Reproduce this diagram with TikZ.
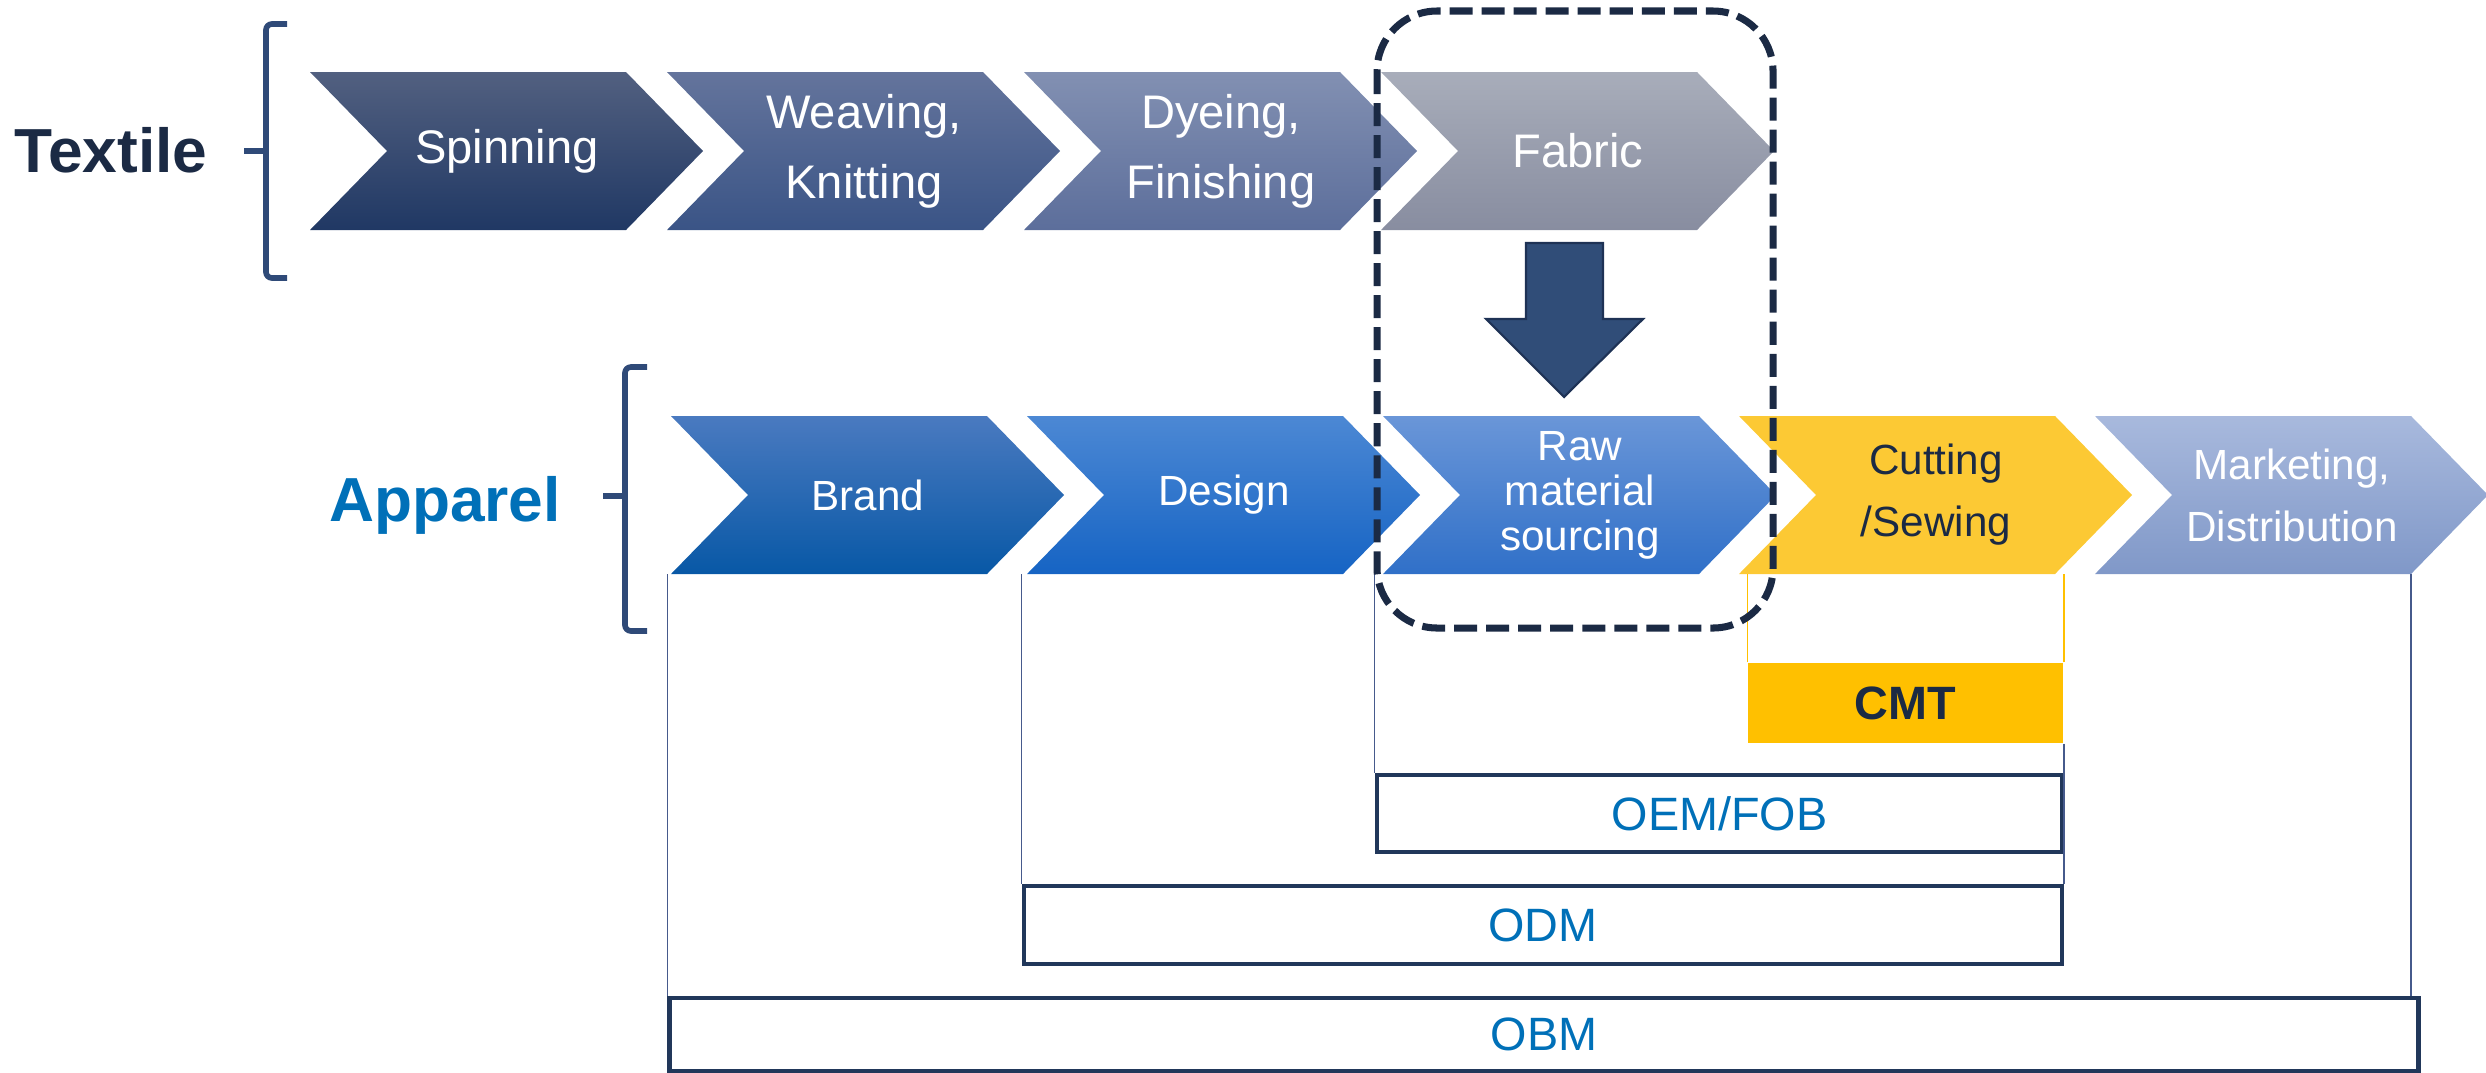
\documentclass[tikz,border=0pt]{standalone}
\usepackage{fontspec}
\setmainfont{Liberation Sans}

\definecolor{navy}{RGB}{27,42,68}
\definecolor{bracecol}{RGB}{47,74,120}
\definecolor{apblue}{RGB}{0,112,184}
\definecolor{spinT}{RGB}{82,96,128}
\definecolor{spinB}{RGB}{32,56,100}
\definecolor{weaveT}{RGB}{100,116,156}
\definecolor{weaveB}{RGB}{58,84,134}
\definecolor{dyeT}{RGB}{130,144,178}
\definecolor{dyeB}{RGB}{92,110,155}
\definecolor{fabT}{RGB}{168,173,186}
\definecolor{fabB}{RGB}{136,141,160}
\definecolor{brandT}{RGB}{74,122,192}
\definecolor{brandB}{RGB}{8,88,166}
\definecolor{designT}{RGB}{76,136,212}
\definecolor{designB}{RGB}{22,100,196}
\definecolor{rawT}{RGB}{106,150,216}
\definecolor{rawB}{RGB}{48,112,200}
\definecolor{cutY}{RGB}{252,201,52}
\definecolor{mktT}{RGB}{168,185,221}
\definecolor{mktB}{RGB}{128,152,200}
\definecolor{arrowF}{RGB}{48,77,120}
\definecolor{arrowD}{RGB}{30,50,85}
\definecolor{boxline}{RGB}{33,55,90}
\definecolor{cmtY}{RGB}{255,192,0}
\definecolor{linkcol}{RGB}{70,90,140}

% one chevron step: name, left x, top y, shading, label style, label
\newcommand{\chevstep}[6]{%
  \shade[#4] (#2,#3) -- ++(316,0) -- ++(77,79) -- ++(-77,79) coordinate (#1-se)
    -- ++(-316,0) coordinate (#1-sw) -- ++(77,-79) -- cycle;
  \node[#5] (#1) at (#2+197,#3+79) {#6};
}

\tikzset{
  textilelbl/.style={text=white, align=center, inner sep=0pt, font=\fontsize{13.4}{19.8}\selectfont},
  apparellbl/.style={text=white, align=center, inner sep=0pt, font=\fontsize{12}{17.6}\selectfont},
  rowlbl/.style={anchor=base, inner sep=0pt, font=\fontsize{17.7}{20}\selectfont\bfseries},
  bracket/.style={draw=bracecol, line width=1.6pt, rounded corners=0.06cm},
  modebox/.style={draw=boxline, line width=1.2pt, inner sep=0pt, text=apblue, font=\fontsize{13.3}{16}\selectfont},
  linkline/.style={draw=linkcol, line width=0.4pt},
}

\begin{document}
\begin{tikzpicture}[x=0.01cm, y=-0.01cm]
\useasboundingbox (0,0) rectangle (2486,1072);

% Row labels and brackets
\node[rowlbl, text=navy] (textile) at (111,172) {Textile};
\node[rowlbl, text=apblue] (apparel) at (445,521) {Apparel};
\draw[bracket] (287,24) -| (266,278) -- (287,278);
\draw[bracket] (266,151) -- (244,151);
\draw[bracket] (647,367) -| (625,631) -- (647,631);
\draw[bracket] (625,496) -- (603,496);

% Textile chain
\chevstep{spin}{310}{72}{top color=spinT, bottom color=spinB}{textilelbl}{Spinning}
\chevstep{weave}{667}{72}{top color=weaveT, bottom color=weaveB}{textilelbl}{Weaving,\\Knitting}
\chevstep{dye}{1024}{72}{top color=dyeT, bottom color=dyeB}{textilelbl}{Dyeing,\\Finishing}
\chevstep{fabric}{1381}{72}{top color=fabT, bottom color=fabB}{textilelbl}{Fabric}

% Apparel chain
\chevstep{brand}{671}{416}{top color=brandT, bottom color=brandB}{apparellbl}{Brand}
\chevstep{design}{1027}{416}{top color=designT, bottom color=designB}{apparellbl}{Design}
\chevstep{raw}{1383}{416}{top color=rawT, bottom color=rawB}{apparellbl, font=\fontsize{12}{12.8}\selectfont}{Raw\\material\\sourcing}
\chevstep{cut}{1739}{416}{top color=cutY, bottom color=cutY}{apparellbl, text=navy}{Cutting\\/Sewing}
\chevstep{mkt}{2095}{416}{top color=mktT, bottom color=mktB}{apparellbl}{Marketing,\\Distribution}

% Fabric feeds raw material sourcing
\draw[fill=arrowF, draw=arrowD, line width=0.6pt] (1526,243) -- (1603,243) -- (1603,319) -- (1643,319)
  -- (1564,397) -- (1486,319) -- (1526,319) -- cycle;

% Business modes
\node[fill=cmtY, inner sep=0pt, minimum width=3.15cm, minimum height=0.8cm, text=navy,
  font=\fontsize{13.3}{16}\selectfont\bfseries] (cmt) at (1905.5,703) {CMT};
\node[modebox, minimum width=6.85cm, minimum height=0.77cm] (oem) at (1719.5,813.5) {OEM/FOB};
\node[modebox, minimum width=10.38cm, minimum height=0.78cm] (odm) at (1543,925) {ODM};
\node[modebox, minimum width=17.48cm, minimum height=0.73cm] (obm) at (1544,1034.5) {OBM};

% Range lines
\draw[linkline] (obm.north west) -- (obm.north west |- brand-sw);
\draw[linkline] (odm.north west) -- (odm.north west |- design-sw);
\draw[linkline] (oem.north west) -- (oem.north west |- raw-sw);
\draw[linkline] (mkt-se) -- (mkt-se |- obm.north);
\draw[linkline] (cmt.south east) -- (cmt.south east |- odm.north);
\draw[draw=cmtY, line width=0.4pt] (cmt.north west) -- (cmt.north west |- cut-sw);
\draw[draw=cmtY, line width=0.4pt] (cmt.north east) -- (cmt.north east |- cut-sw);

% Dashed frame round the fabric link
\draw[draw=navy, line width=2pt, dash pattern=on 0.23cm off 0.09cm, rounded corners=0.6cm]
  (1377,11) rectangle (1773,628);

\end{tikzpicture}
\end{document}
